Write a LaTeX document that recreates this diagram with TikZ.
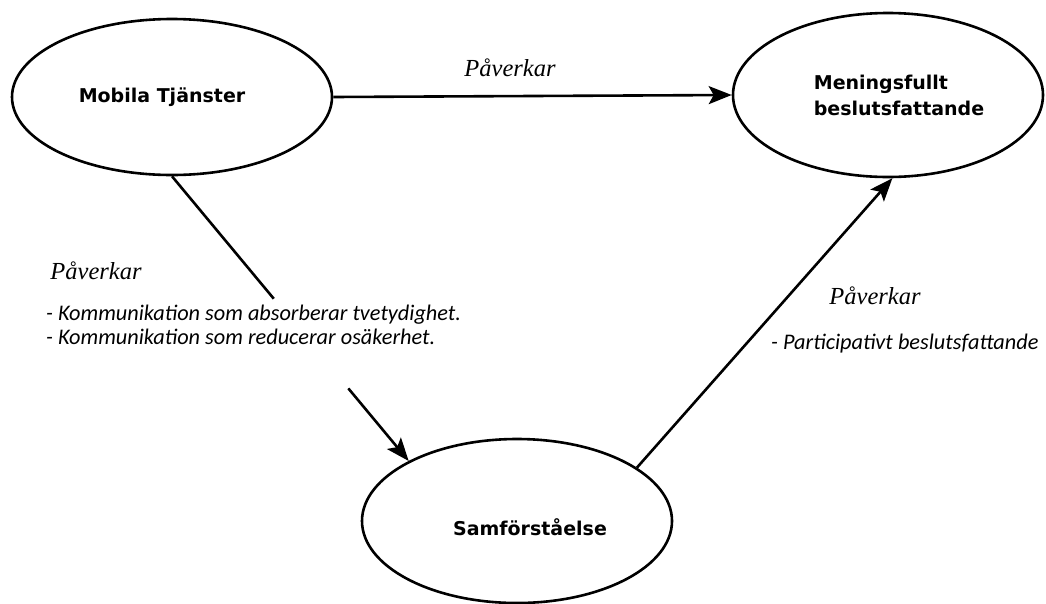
\documentclass[tikz,border=0pt]{standalone}
\usepackage{fontspec}
\setmainfont{DejaVu Sans}
\newfontfamily\verbfont{Liberation Serif}
\newfontfamily\notefont{Carlito}
\usetikzlibrary{shapes.geometric,arrows.meta}

\begin{document}
\begin{tikzpicture}[x=1pt,y=-1pt,
  oval/.style={ellipse, draw, line width=2.6pt, inner sep=0pt},
  title/.style={font=\fontsize{19}{26}\selectfont\bfseries, align=left, inner sep=0pt},
  verb/.style={font=\verbfont\itshape\fontsize{24.5}{28}\selectfont, inner sep=0pt},
  note/.style={font=\notefont\itshape\fontsize{22.3}{24}\selectfont, align=left, inner sep=0pt},
  link/.style={line width=2.6pt, -{Stealth[length=23pt,width=18pt,inset=5pt]}},
  plain/.style={line width=2.6pt}]
\useasboundingbox (0,0) rectangle (1046,603);

% the three concepts
\node[oval, minimum width=320pt, minimum height=156pt] (mob) at (172,97) {};
\node[oval, minimum width=310pt, minimum height=164pt] (men) at (888,95) {};
\node[oval, minimum width=310pt, minimum height=164pt] (sam) at (517,521) {};

\node[title] (mobt) at (162,97) {Mobila Tjänster};
\node[title] (ment) at (899,95) {Meningsfullt\\beslutsfattande};
\node[title] (samt) at (530,527) {Samförståelse};

% influences
\draw[link] (mob.east) -- (men.west);

\path (mob.south) -- (sam.151)
  coordinate[pos=0.43] (gapA) coordinate[pos=0.745] (gapB);
\draw[plain] (mob.south) -- (gapA);
\draw[link] (gapB) -- (sam.151);

\draw[link] (sam.24) -- (men.-87);

% edge labels
\node[verb] (v1) at (510,68) {Påverkar};
\node[verb] (v2) at (96,271) {Påverkar};
\node[note, anchor=west] (n1) at (46,325)
  {- Kommunikation som absorberar tvetydighet.\\- Kommunikation som reducerar osäkerhet.};
\node[verb] (v3) at (875,296) {Påverkar};
\node[note, anchor=west] (n2) at (771,344) {- Participativt beslutsfattande};
\end{tikzpicture}
\end{document}
